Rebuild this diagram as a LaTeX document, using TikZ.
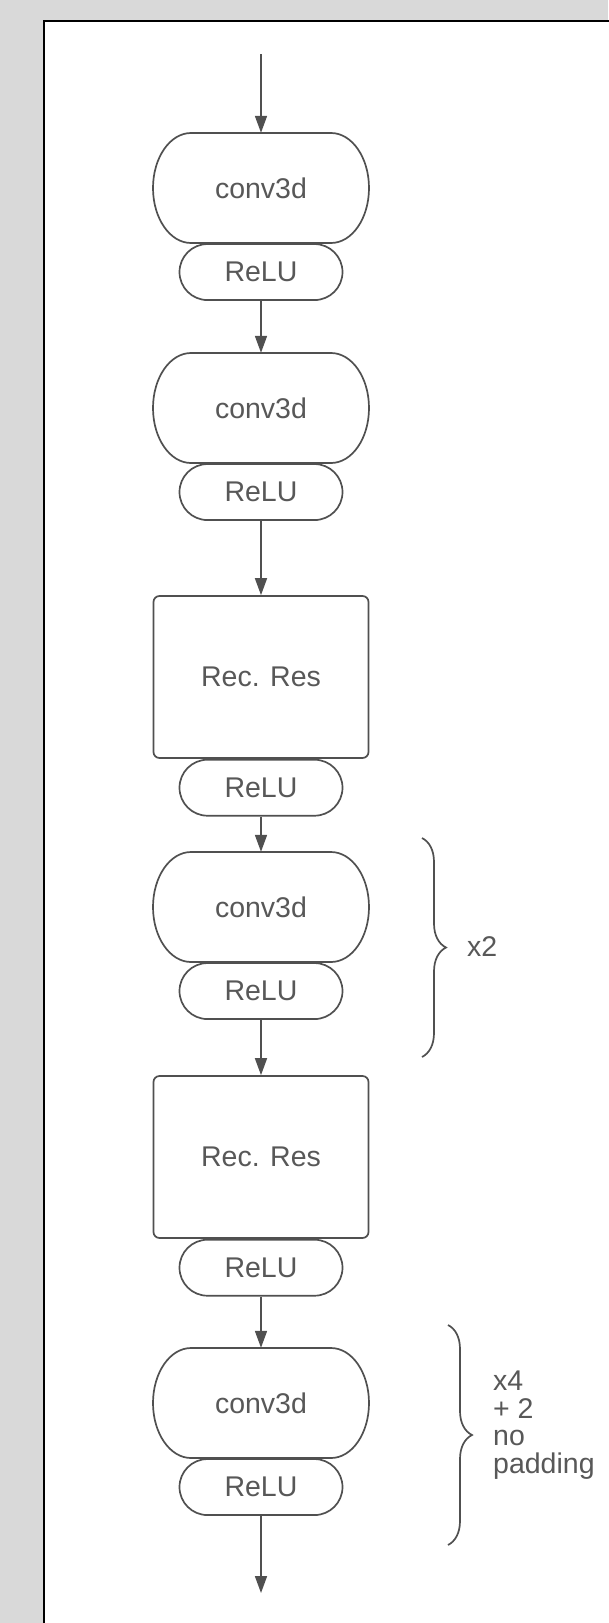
\documentclass[tikz,border=0pt]{standalone}
\usepackage{fontspec}
\setmainfont{Liberation Sans}
\usetikzlibrary{arrows.meta,decorations.pathreplacing}
\definecolor{bg}{HTML}{D9D9D9}
\definecolor{ln}{HTML}{505050}
\definecolor{tx}{HTML}{585858}
\begin{document}
\begin{tikzpicture}[x=1pt,y=-1pt,
  font=\fontsize{28.5}{27.5}\selectfont,
  shp/.style={draw=ln, line width=1.7pt, fill=white, text=tx, inner sep=0pt},
  conv/.style={text=tx, inner sep=0pt, minimum width=216pt, minimum height=110pt},
  outl/.style={draw=ln, line width=1.7pt, fill=white},
  relu/.style={shp, rounded corners=28pt, minimum width=163pt, minimum height=56pt, anchor=north},
  recres/.style={shp, rounded corners=6pt, minimum width=215pt, minimum height=162pt},
  flow/.style={draw=ln, line width=1.7pt, -{Triangle[width=12pt,length=17pt]}},
  brc/.style={draw=ln, line width=1.7pt, decorate, decoration={brace, amplitude=24pt}},
  note/.style={text=tx, anchor=west, align=left, inner sep=0pt}]
\useasboundingbox (0,0) rectangle (608,1623);
\fill[bg] (0,0) rectangle (608,1623);
\draw[black, line width=2.2pt, fill=white] (44,21) rectangle (650,1680);

% conv3d outlines (elliptical ends)
\foreach \y in {188,408,907,1403}{
  \draw[outl] (261-70,\y-55) -- (261+70,\y-55)
    arc[start angle=90, end angle=-90, x radius=38pt, y radius=55pt]
    -- (261-70,\y+55)
    arc[start angle=270, end angle=90, x radius=38pt, y radius=55pt] -- cycle;
}

\coordinate (in) at (261,54);
\node[conv] (c1) at (261,188) {conv3d};
\node[relu] (r1) at (c1.south) {ReLU};
\node[conv] (c2) at (261,408) {conv3d};
\node[relu] (r2) at (c2.south) {ReLU};
\node[recres] (rr1) at (261,677) {Rec. Res};
\node[relu] (r3) at (rr1.south) {ReLU};
\node[conv] (c3) at (261,907) {conv3d};
\node[relu] (r4) at (c3.south) {ReLU};
\node[recres] (rr2) at (261,1157) {Rec. Res};
\node[relu] (r5) at (rr2.south) {ReLU};
\node[conv] (c4) at (261,1403) {conv3d};
\node[relu] (r6) at (c4.south) {ReLU};
\coordinate (out) at (261,1593);

\draw[flow] (in) -- (c1);
\draw[flow] (r1) -- (c2);
\draw[flow] (r2) -- (rr1);
\draw[flow] (r3) -- (c3);
\draw[flow] (r4) -- (rr2);
\draw[flow] (r5) -- (c4);
\draw[flow] (r6) -- (out);

\coordinate (b1t) at (422,838);
\coordinate (b1b) at (422,1057);
\draw[brc] (b1t) -- (b1b);
\node[note] (t1) at (467,947) {x2};

\coordinate (b2t) at (448,1325);
\coordinate (b2b) at (448,1545);
\draw[brc] (b2t) -- (b2b);
\node[note] (t2) at (493,1425) {x4\\+ 2\\no\\padding};
\end{tikzpicture}
\end{document}
